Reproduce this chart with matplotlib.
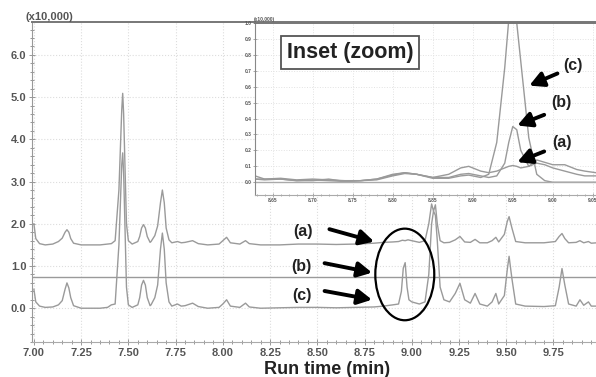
import numpy as np
import matplotlib.pyplot as plt
from matplotlib.patches import Ellipse
from matplotlib.ticker import MultipleLocator

plt.rcParams['font.family'] = ['Liberation Sans', 'DejaVu Sans']

# main chromatogram, intensity in x10,000
a_t = [7.00, 7.01, 7.03, 7.06, 7.10, 7.13, 7.15, 7.165, 7.175, 7.185, 7.195, 7.21, 7.25, 7.30, 7.35,
       7.39, 7.41, 7.43, 7.45, 7.465, 7.47, 7.475, 7.49, 7.50, 7.52, 7.55, 7.56, 7.57, 7.58, 7.59,
       7.60, 7.615, 7.62, 7.64, 7.655, 7.67, 7.68, 7.69, 7.70, 7.715, 7.73, 7.76, 7.78, 7.80, 7.84,
       7.87, 7.92, 7.98, 8.00, 8.02, 8.04, 8.09, 8.12, 8.14, 8.20, 8.30, 8.40, 8.50, 8.60, 8.70,
       8.80, 8.85, 8.90, 8.93, 8.95, 8.965, 8.98, 9.00, 9.04, 9.07, 9.09, 9.105, 9.115, 9.125, 9.135,
       9.15, 9.17, 9.20, 9.23, 9.255, 9.28, 9.31, 9.335, 9.36, 9.40, 9.425, 9.445, 9.46, 9.49, 9.505,
       9.515, 9.53, 9.55, 9.60, 9.70, 9.76, 9.78, 9.795, 9.81, 9.83, 9.87, 9.89, 9.91, 9.935, 9.95,
       9.98]
a_v = [2.00, 1.65, 1.53, 1.50, 1.52, 1.58, 1.66, 1.80, 1.86, 1.80, 1.65, 1.54, 1.50, 1.50, 1.50,
       1.52, 1.53, 1.60, 2.80, 4.70, 5.09, 4.60, 2.00, 1.60, 1.52, 1.58, 1.70, 1.90, 1.98, 1.90,
       1.70, 1.56, 1.58, 1.72, 1.95, 2.50, 2.80, 2.50, 1.90, 1.62, 1.55, 1.58, 1.55, 1.56, 1.60,
       1.53, 1.50, 1.52, 1.60, 1.68, 1.55, 1.52, 1.60, 1.53, 1.50, 1.50, 1.52, 1.52, 1.51, 1.52,
       1.54, 1.56, 1.57, 1.58, 1.61, 1.60, 1.62, 1.60, 1.56, 1.60, 2.00, 2.47, 2.30, 2.45, 2.00,
       1.60, 1.55, 1.56, 1.62, 1.70, 1.57, 1.56, 1.63, 1.55, 1.55, 1.60, 1.68, 1.57, 1.75, 2.05,
       2.17, 1.90, 1.58, 1.55, 1.55, 1.58, 1.70, 1.77, 1.65, 1.55, 1.56, 1.60, 1.55, 1.58, 1.54,
       1.55]

b_t = [6.99, 9.98]
b_v = [0.74, 0.74]

c_t = [7.00, 7.01, 7.03, 7.06, 7.10, 7.13, 7.15, 7.165, 7.175, 7.185, 7.195, 7.21, 7.25, 7.30, 7.35,
       7.39, 7.41, 7.43, 7.45, 7.465, 7.47, 7.475, 7.49, 7.50, 7.52, 7.55, 7.56, 7.57, 7.58, 7.59,
       7.60, 7.615, 7.62, 7.64, 7.655, 7.67, 7.68, 7.69, 7.70, 7.715, 7.73, 7.76, 7.78, 7.80, 7.84,
       7.87, 7.92, 7.98, 8.00, 8.02, 8.04, 8.09, 8.12, 8.14, 8.20, 8.30, 8.40, 8.50, 8.60, 8.70,
       8.80, 8.85, 8.90, 8.93, 8.945, 8.955, 8.965, 8.975, 8.985, 9.00, 9.04, 9.07, 9.09, 9.105, 9.115,
       9.125, 9.135, 9.15, 9.17, 9.20, 9.23, 9.255, 9.28, 9.31, 9.335, 9.36, 9.40, 9.425, 9.445, 9.46,
       9.49, 9.505, 9.515, 9.53, 9.55, 9.60, 9.70, 9.76, 9.78, 9.795, 9.81, 9.83, 9.87, 9.89, 9.91,
       9.935, 9.95, 9.98]
c_v = [0.45, 0.15, 0.05, 0.02, 0.03, 0.08, 0.18, 0.45, 0.60, 0.48, 0.25, 0.06, 0.00, 0.00, 0.00,
       0.02, 0.08, 0.10, 1.50, 3.40, 3.68, 3.20, 0.50, 0.08, 0.02, 0.08, 0.25, 0.55, 0.66, 0.55,
       0.25, 0.06, 0.08, 0.25, 0.55, 1.40, 1.78, 1.40, 0.60, 0.15, 0.05, 0.10, 0.05, 0.06, 0.12,
       0.04, 0.00, 0.02, 0.10, 0.20, 0.05, 0.02, 0.12, 0.03, 0.00, 0.01, 0.02, 0.02, 0.01, 0.02,
       0.03, 0.05, 0.08, 0.10, 0.40, 0.95, 1.08, 0.50, 0.20, 0.15, 0.10, 0.15, 0.80, 2.00, 2.30,
       2.20, 1.60, 0.50, 0.20, 0.15, 0.35, 0.59, 0.20, 0.12, 0.35, 0.10, 0.05, 0.15, 0.35, 0.10,
       0.30, 0.90, 1.23, 0.70, 0.10, 0.05, 0.04, 0.06, 0.50, 0.94, 0.55, 0.10, 0.05, 0.20, 0.07,
       0.15, 0.05, 0.05]

# inset (zoom around 8.95 min)
in_t = [8.628, 8.64, 8.66, 8.68, 8.70, 8.72, 8.74, 8.76, 8.78, 8.80, 8.815, 8.83, 8.85, 8.87, 8.885,
        8.895, 8.91, 8.92, 8.93, 8.94, 8.945, 8.95, 8.955, 8.96, 8.97, 8.98, 8.99, 9.00, 9.015, 9.03,
        9.04, 9.054]
in_a = [0.04, 0.02, 0.025, 0.015, 0.02, 0.015, 0.01, 0.01, 0.02, 0.05, 0.06, 0.05, 0.03, 0.05, 0.09,
        0.10, 0.07, 0.06, 0.07, 0.09, 0.10, 0.105, 0.10, 0.09, 0.10, 0.14, 0.125, 0.11, 0.11, 0.08,
        0.07, 0.06]
in_b = [0.02, 0.02, 0.02, 0.01, 0.01, 0.02, 0.005, 0.01, 0.02, 0.045, 0.06, 0.05, 0.03, 0.03, 0.05,
        0.055, 0.04, 0.03, 0.04, 0.12, 0.25, 0.35, 0.33, 0.20, 0.10, 0.12, 0.11, 0.09, 0.07, 0.05,
        0.04, 0.04]
in_c = [0.02, 0.015, 0.02, 0.01, 0.015, 0.01, 0.005, 0.01, 0.015, 0.04, 0.055, 0.05, 0.025, 0.025, 0.04,
        0.045, 0.03, 0.05, 0.25, 0.72, 1.02, 1.05, 1.00, 0.76, 0.28, 0.05, 0.01, 0.0, 0.0, 0.0,
        0.0, 0.0]

line_col = '#9a9a9a'
txt_col = '#555555'
arrow_style = '-|>,head_width=0.45,head_length=0.85'

fig = plt.figure(figsize=(5.96, 3.77), dpi=100)
ax = fig.add_axes([32/596, 1-342/377, 1-32/596, 320/377])
ax.plot(a_t, a_v, color=line_col, lw=1)
ax.plot(b_t, b_v, color=line_col, lw=1)
ax.plot(c_t, c_v, color=line_col, lw=1)
ax.set_xlim(6.99, 9.975)
ax.set_ylim(-0.8, 6.78)
ax.xaxis.set_minor_locator(MultipleLocator(0.05))
ax.yaxis.set_minor_locator(MultipleLocator(0.2))
ax.set_xticks(np.arange(7.0, 9.76, 0.25))
ax.set_xticklabels(['%.2f' % v for v in np.arange(7.0, 9.76, 0.25)])
ax.set_yticks(np.arange(0, 6.1, 1.0))
ax.set_yticklabels(['%.1f' % v for v in np.arange(0, 6.1, 1.0)])
ax.grid(True, which='major', color='#dddddd', ls=':', lw=0.8)
for tick in ax.get_xticklabels() + ax.get_yticklabels():
    tick.set_fontsize(8)
    tick.set_fontweight('bold')
    tick.set_color(txt_col)
ax.tick_params(which='both', direction='inout', color='#888888', length=4, width=0.6, pad=2)
ax.tick_params(which='minor', length=2.5)
ax.spines['right'].set_visible(False)
ax.spines['top'].set_color('#777777')
ax.spines['top'].set_linewidth(1.4)
ax.spines['left'].set_color('#999999')
ax.spines['bottom'].set_color('#aaaaaa')

# circle and arrows
ax.add_patch(Ellipse((8.963, 0.80), 0.312, 2.17, fill=False, ec='black', lw=1.6, zorder=5))
arrows_main = [('(a)', (8.423, 1.82), (8.55, 1.89), (8.815, 1.56)),
               ('(b)', (8.418, 0.99), (8.524, 1.08), (8.804, 0.83)),
               ('(c)', (8.418, 0.31), (8.524, 0.42), (8.804, 0.19))]
for lab, tpos, tail, head in arrows_main:
    ax.text(tpos[0], tpos[1], lab, fontsize=11.5, fontweight='bold', ha='center', va='center', color='#222222')
    ax.annotate('', xy=head, xytext=tail,
                arrowprops=dict(arrowstyle=arrow_style, lw=2.8, color='black'))

fig.text(49/596, 1-17/377, '(x10,000)', fontsize=8, fontweight='bold', color=txt_col, ha='center', va='center')
fig.text(327/596, 1-369/377, 'Run time (min)', fontsize=13, fontweight='bold', color='#222222', ha='center', va='center')

# inset
axi = fig.add_axes([255/596, 1-195/377, 1-255/596, 172/377])
axi.set_facecolor('white')
axi.plot(in_t, in_a, color=line_col, lw=1)
axi.plot(in_t, in_b, color=line_col, lw=1)
axi.plot(in_t, in_c, color=line_col, lw=1)
axi.axhline(0.0, color='#aaaaaa', lw=1)
axi.set_xlim(8.628, 9.054)
axi.set_ylim(-0.08, 1.0)
axi.set_xticks(np.arange(8.65, 9.06, 0.05))
axi.set_xticklabels(['%.2f' % v for v in np.arange(8.65, 9.06, 0.05)])
axi.xaxis.set_minor_locator(MultipleLocator(0.01))
axi.set_yticks(np.arange(0, 1.01, 0.1))
axi.set_yticklabels(['%.1f' % v for v in np.arange(0, 1.01, 0.1)])
axi.grid(True, which='major', color='#e2e2e2', ls=':', lw=0.7)
for tick in axi.get_xticklabels() + axi.get_yticklabels():
    tick.set_fontsize(3.5)
    tick.set_fontweight('bold')
    tick.set_color(txt_col)
axi.tick_params(which='both', direction='inout', color='#888888', length=2.5, width=0.5, pad=1)
axi.tick_params(which='minor', length=1.5)
axi.spines['right'].set_visible(False)
axi.spines['top'].set_color('#777777')
axi.spines['top'].set_linewidth(1.4)
axi.spines['left'].set_color('#888888')
axi.spines['bottom'].set_color('#aaaaaa')
axi.text(0.279, 0.831, 'Inset (zoom)', transform=axi.transAxes, fontsize=15.5, fontweight='bold',
         ha='center', va='center', color='#222222',
         bbox=dict(boxstyle='square,pad=0.28', fc='white', ec='#555555', lw=1.3))
arrows_in = [('(c)', (9.025, 0.736), (9.009, 0.69), (8.9675, 0.60)),
             ('(b)', (9.011, 0.50), (8.9925, 0.43), (8.9525, 0.35)),
             ('(a)', (9.011, 0.25), (8.9925, 0.20), (8.9525, 0.12))]
for lab, tpos, tail, head in arrows_in:
    axi.text(tpos[0], tpos[1], lab, fontsize=11.5, fontweight='bold', ha='center', va='center', color='#222222')
    axi.annotate('', xy=head, xytext=tail,
                 arrowprops=dict(arrowstyle=arrow_style, lw=2.8, color='black'))
fig.text(264/596, 1-19/377, '(x10,000)', fontsize=3.5, fontweight='bold', color=txt_col, ha='center', va='center')

plt.savefig('out.png', dpi=100)
